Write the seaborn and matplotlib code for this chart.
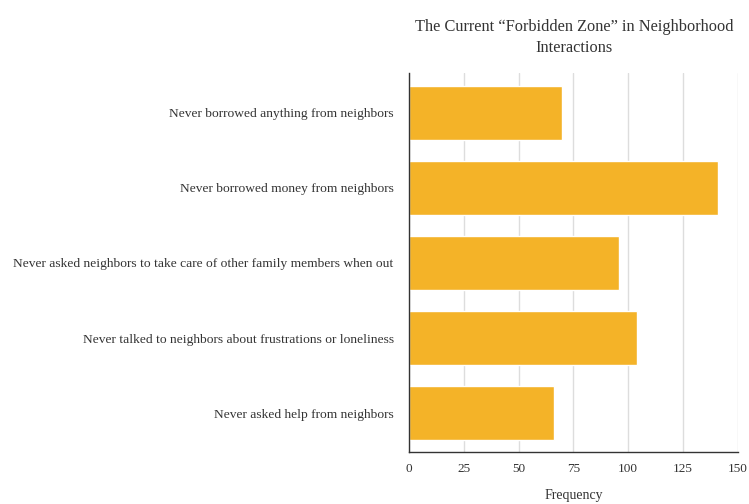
import matplotlib
matplotlib.use("Agg")
import matplotlib.pyplot as plt
import seaborn as sns
import pandas as pd

categories = [
    "Never borrowed anything from neighbors",
    "Never borrowed money from neighbors",
    "Never asked neighbors to take care of other family members when out",
    "Never talked to neighbors about frustrations or loneliness",
    "Never asked help from neighbors",
]
frequency = [70, 141, 96, 104, 66]
x_ticks = [0, 25, 50, 75, 100, 125, 150]

df = pd.DataFrame({"category": categories, "frequency": frequency})

sns.set_theme(style="white")
plt.rcParams["font.family"] = ["Liberation Serif", "DejaVu Serif"]

fig = plt.figure(figsize=(7.49, 5.04), dpi=100)
ax = fig.add_axes([0.546, 0.103, 0.439, 0.752])

sns.barplot(data=df, x="frequency", y="category", color="#F4B328",
            saturation=1, width=0.71, ax=ax, zorder=3)

ax.set_xlim(0, 150)
ax.set_ylim(4.52, -0.53)
ax.set_xticks(x_ticks)
ax.set_xticklabels([str(t) for t in x_ticks], fontsize=9.5, color="#333333")
ax.tick_params(axis="y", labelsize=9.7, labelcolor="#333333", length=0, pad=11)
ax.tick_params(axis="x", length=0, pad=8)
ax.grid(axis="x", color="#dddddd", linewidth=1, zorder=0)
ax.set_ylabel("")
ax.set_xlabel("Frequency", fontsize=10, color="#333333", labelpad=10)

for s in ["top", "right"]:
    ax.spines[s].set_visible(False)
for s in ["left", "bottom"]:
    ax.spines[s].set_color("#333333")
    ax.spines[s].set_linewidth(1)
    ax.spines[s].set_zorder(5)

fig.text(0.767, 0.962, "The Current \u201cForbidden Zone\u201d in Neighborhood\nInteractions",
         ha="center", va="top", fontsize=11.8, color="#333333", linespacing=1.4)

fig.savefig("out.png", dpi=100, facecolor="white")
